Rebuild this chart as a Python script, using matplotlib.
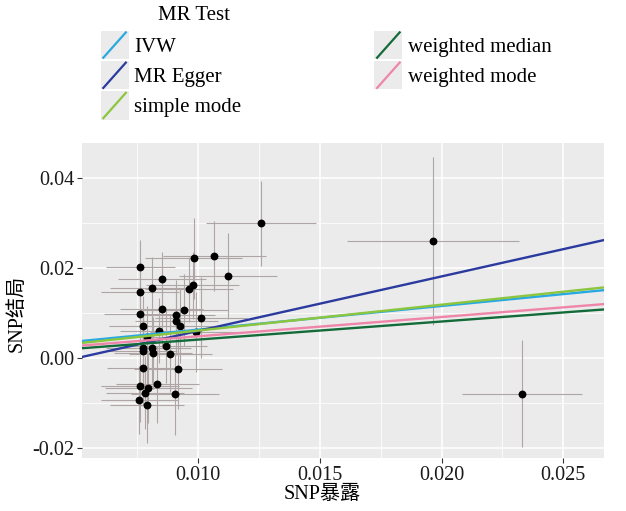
import matplotlib
matplotlib.use("Agg")
import matplotlib.pyplot as plt
from matplotlib.legend_handler import HandlerBase
from matplotlib.patches import Rectangle
from matplotlib.lines import Line2D
import numpy as np

# ---- data ----
snp_exposure = [0.00763, 0.00851, 0.00982, 0.01067, 0.01122, 0.00810, 0.00763, 0.00977, 0.00963,
                0.00851, 0.00763, 0.00941, 0.00911, 0.01011, 0.00911, 0.00925, 0.00774, 0.00840,
                0.00993, 0.00791, 0.00772, 0.00774, 0.00809, 0.00813, 0.00866, 0.00885, 0.00774,
                0.00917, 0.00763, 0.00832, 0.00796, 0.00781, 0.00906, 0.00759, 0.00790,
                0.01258, 0.01964, 0.02329]
snp_outcome = [0.02029, 0.01749, 0.02216, 0.02267, 0.01829, 0.01556, 0.01473, 0.01616, 0.01527,
               0.01089, 0.00978, 0.01067, 0.00956, 0.00904, 0.00822, 0.00711, 0.00711, 0.00607,
               0.00584, 0.00467, 0.00238, 0.00162, 0.00238, 0.00118, 0.00267, 0.00104, -0.00222,
               -0.00244, -0.00616, -0.00578, -0.00651, -0.00762, -0.00800, -0.00933, -0.01038,
               0.02993, 0.02607, -0.00784]
se_exposure = [0.0014, 0.0018, 0.0020, 0.0021, 0.0020, 0.0017, 0.0016, 0.0019, 0.0018,
               0.0017, 0.0015, 0.0018, 0.0016, 0.0019, 0.0017, 0.0018, 0.0014, 0.0016,
               0.0019, 0.0015, 0.0015, 0.0014, 0.0016, 0.0016, 0.0017, 0.0017, 0.0015,
               0.0018, 0.0016, 0.0017, 0.0018, 0.0016, 0.0018, 0.0016, 0.0015,
               0.00226, 0.00354, 0.00247]
se_outcome = [0.0060, 0.0062, 0.0090, 0.0078, 0.0095, 0.0070, 0.0065, 0.0075, 0.0072,
              0.0085, 0.0070, 0.0080, 0.0078, 0.0090, 0.0076, 0.0082, 0.0068, 0.0072,
              0.0088, 0.0070, 0.0080, 0.0075, 0.0078, 0.0080, 0.0082, 0.0085, 0.0082,
              0.0088, 0.0080, 0.0085, 0.0078, 0.0082, 0.0090, 0.0075, 0.0085,
              0.0094, 0.0187, 0.0118]

methods = ["IVW", "MR Egger", "simple mode", "weighted median", "weighted mode"]
intercepts = [0.00108, -0.00605, 0.00039, 0.00012, 0.00058]
slopes = [0.5264, 1.211, 0.575, 0.4017, 0.4288]
colors = ["#29A9E1", "#2B3A9F", "#8CC63F", "#126B38", "#EE86AA"]

xticks = [0.010, 0.015, 0.020, 0.025]
xticklabels = ["0.010", "0.015", "0.020", "0.025"]
yticks = [-0.02, 0.00, 0.02, 0.04]
yticklabels = ["-0.02", "0.00", "0.02", "0.04"]

FAM = ["Liberation Serif", "Noto Sans CJK SC", "DejaVu Sans"]
plt.rcParams['font.family'] = FAM

fig = plt.figure(figsize=(6.26, 5.11), dpi=100)
ax = fig.add_axes([82/626, 1-458/511, (604-82)/626, (458-143)/511])
ax.set_facecolor("#EBEBEB")
for s in ax.spines.values():
    s.set_visible(False)

ax.set_xlim(0.00523, 0.02667)
ax.set_ylim(-0.02216, 0.0478)

ax.set_xticks(xticks)
ax.set_xticklabels(xticklabels)
ax.set_yticks(yticks)
ax.set_yticklabels(yticklabels)
ax.set_xticks([0.0075, 0.0125, 0.0175, 0.0225], minor=True)
ax.set_yticks([-0.01, 0.01, 0.03], minor=True)
ax.grid(which="major", color="white", lw=1.1)
ax.grid(which="minor", color="white", lw=0.55)
ax.set_axisbelow(True)
ax.tick_params(which="major", length=3.5, width=0.8, color="#333333", labelsize=14.5,
               labelcolor="#1a1a1a", pad=2)
ax.tick_params(which="minor", length=0)

ax.errorbar(snp_exposure, snp_outcome, xerr=se_exposure, yerr=se_outcome, fmt="none",
            ecolor="#b0a5a5", elinewidth=0.8, capsize=0, zorder=2)
ax.scatter(snp_exposure, snp_outcome, s=32, color="black", zorder=3, linewidths=0)

for m, b0, b1, c in zip(methods, intercepts, slopes, colors):
    ax.axline((0, b0), slope=b1, color=c, lw=1.7, label=m, zorder=4)

ax.set_xlabel("SNP暴露", fontsize=14.5, family=FAM, labelpad=1)
ax.set_ylabel("SNP结局", fontsize=14.5, family=FAM, labelpad=2)
ax.xaxis.set_label_coords(0.46, -0.085)
ax.yaxis.set_label_coords(-0.107, 0.46)


class DiagHandler(HandlerBase):
    def create_artists(self, legend, orig_handle, xdescent, ydescent, width, height,
                       fontsize, trans):
        rect = Rectangle((-xdescent, -ydescent), width, height, facecolor="#EBEBEB",
                         edgecolor="none", transform=trans)
        ln = Line2D([-xdescent + 2, -xdescent + width - 2],
                    [-ydescent + 1, -ydescent + height - 1],
                    color=orig_handle.get_color(), lw=1.6, transform=trans)
        return [rect, ln]


handles = [Line2D([], [], color=c) for c in colors]
leg = fig.legend(handles, methods, ncol=2, loc="upper left",
                 bbox_to_anchor=(100.5/626, 1-31/511), frameon=False,
                 handler_map={Line2D: DiagHandler()}, handlelength=1.35,
                 handleheight=1.7, handletextpad=0.25, labelspacing=0.1,
                 columnspacing=6.4, borderpad=0, borderaxespad=0,
                 prop={"family": FAM, "size": 15})
fig.text(158/626, 1-16/511, "MR Test", fontsize=15, family=FAM, va="center", ha="left")

fig.savefig("out.png", dpi=100)
